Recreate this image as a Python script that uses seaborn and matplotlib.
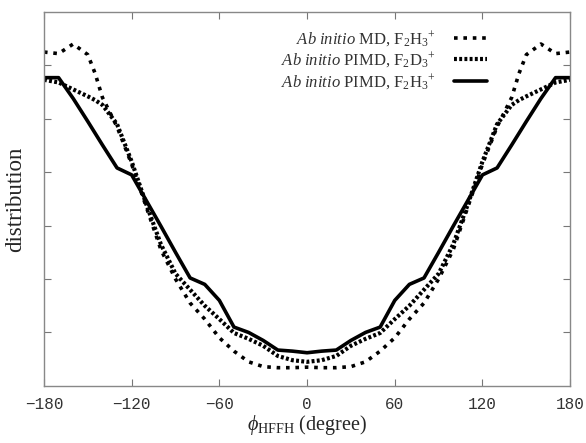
import numpy as np
import pandas as pd
import matplotlib
matplotlib.use("Agg")
import matplotlib.pyplot as plt
import seaborn as sns

# dihedral angle grid (degree), left half; right half mirrored
phi_half = [-180, -170, -160, -150, -145, -140, -130, -120, -110, -100,
            -90, -80, -70, -60, -50, -40, -30, -20, -10, 0]

# Ab initio MD, F2H3+
md_h = [6.25, 6.22, 6.40, 6.20, 5.85, 5.40, 4.85, 4.15, 3.35, 2.55,
        2.00, 1.55, 1.25, 0.90, 0.65, 0.45, 0.36, 0.34, 0.34, 0.35]
# Ab initio PIMD, F2D3+
pimd_d = [5.73, 5.68, 5.55, 5.42, 5.35, 5.26, 4.90, 4.20, 3.40, 2.65,
          2.10, 1.80, 1.50, 1.25, 0.99, 0.88, 0.75, 0.56, 0.48, 0.45]
# Ab initio PIMD, F2H3+
pimd_h = [5.77, 5.77, 5.38, 4.95, 4.73, 4.51, 4.08, 3.95, 3.47, 2.99,
          2.50, 2.02, 1.90, 1.60, 1.10, 1.00, 0.85, 0.67, 0.65, 0.62]

labels = [r"$\mathit{Ab\ initio}$ MD, F$_2$H$_3$$^{+}$",
          r"$\mathit{Ab\ initio}$ PIMD, F$_2$D$_3$$^{+}$",
          r"$\mathit{Ab\ initio}$ PIMD, F$_2$H$_3$$^{+}$"]

def mirror(v):
    # symmetric distribution: append the right half
    return list(v) + list(v[-2::-1])

phi = list(phi_half) + [-p for p in phi_half[-2::-1]]

sns.set_style("ticks")
plt.rcParams['font.family'] = ['Liberation Serif', 'DejaVu Serif']
plt.rcParams['mathtext.fontset'] = 'custom'
plt.rcParams['mathtext.rm'] = 'Liberation Serif'
plt.rcParams['mathtext.it'] = 'Liberation Serif:italic'

fig = plt.figure(figsize=(5.86, 4.43), dpi=100)
ax = fig.add_axes([0.075, 0.129, 0.898, 0.844])

styles = [(0, (1.0, 1.6)), (0, (0.7, 0.55)), '-']
widths = [2.6, 3.0, 2.6]
for vals, lab, ls, lw in zip([md_h, pimd_d, pimd_h], labels, styles, widths):
    df = pd.DataFrame({"phi": phi, "dist": mirror(vals)})
    sns.lineplot(data=df, x="phi", y="dist", ax=ax, color="black",
                 linestyle=ls, linewidth=lw, label=lab)

ax.set_xlim(-180, 180)
ax.set_ylim(0, 7)
ax.set_xticks(np.arange(-180, 181, 60))
ax.set_yticks(np.arange(1, 7))
ax.set_yticklabels([])
ax.tick_params(direction="in", top=True, right=True, length=5,
               color="#777777", width=0.8)
for lab in ax.get_xticklabels():
    lab.set_fontfamily("Liberation Mono")
    lab.set_fontsize(11.5)
    lab.set_color("#333333")
ax.tick_params(axis="x", pad=8)
for s in ax.spines.values():
    s.set_color("#888888")
    s.set_linewidth(1.0)

ax.set_xlabel(r"$\mathit{\phi}_{\mathrm{HFFH}}$ (degree)", fontsize=14.5, labelpad=1)
ax.set_ylabel("distribution", fontsize=16.5, labelpad=9)

leg = ax.legend(loc="upper right", bbox_to_anchor=(0.871, 0.995), frameon=False,
                markerfirst=False, fontsize=12, handlelength=2.0,
                labelspacing=0.12, handletextpad=1.1)
for t in leg.get_texts():
    t.set_color("#333333")

fig.savefig("out.png", dpi=100)
